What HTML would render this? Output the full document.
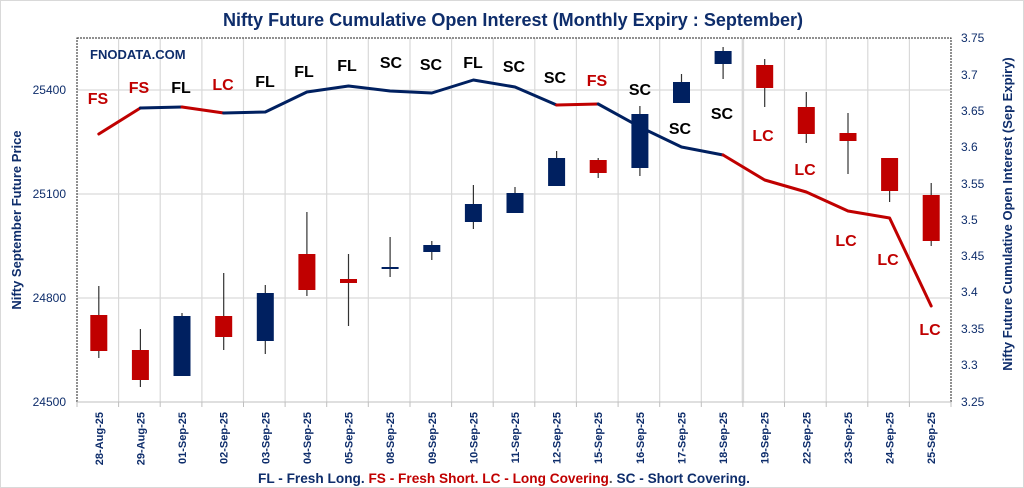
<!DOCTYPE html>
<html><head><meta charset="utf-8"><style>
html,body{margin:0;padding:0;background:#fff;}
svg{display:block;font-family:"Liberation Sans",sans-serif;}
</style></head><body>
<svg width="1024" height="488" viewBox="0 0 1024 488" xmlns="http://www.w3.org/2000/svg">
<rect x="0.5" y="0.5" width="1023" height="487" fill="#fff" stroke="#d9d9d9"/>
<text x="513" y="26" text-anchor="middle" font-size="18" font-weight="bold" fill="#0e2d6b" textLength="580" lengthAdjust="spacingAndGlyphs">Nifty Future Cumulative Open Interest (Monthly Expiry : September)</text>
<!-- grid -->
<g stroke="#d9d9d9" stroke-width="1.2">
<line x1="77" y1="90" x2="951" y2="90"/><line x1="77" y1="194" x2="951" y2="194"/><line x1="77" y1="298" x2="951" y2="298"/>
<line x1="118.6" y1="38" x2="118.6" y2="402"/><line x1="160.2" y1="38" x2="160.2" y2="402"/><line x1="201.9" y1="38" x2="201.9" y2="402"/><line x1="243.5" y1="38" x2="243.5" y2="402"/><line x1="285.1" y1="38" x2="285.1" y2="402"/><line x1="326.7" y1="38" x2="326.7" y2="402"/><line x1="368.3" y1="38" x2="368.3" y2="402"/><line x1="410" y1="38" x2="410" y2="402"/><line x1="451.6" y1="38" x2="451.6" y2="402"/><line x1="493.2" y1="38" x2="493.2" y2="402"/><line x1="534.8" y1="38" x2="534.8" y2="402"/><line x1="576.4" y1="38" x2="576.4" y2="402"/><line x1="618.1" y1="38" x2="618.1" y2="402"/><line x1="659.7" y1="38" x2="659.7" y2="402"/><line x1="701.3" y1="38" x2="701.3" y2="402"/><line x1="742.9" y1="38" x2="742.9" y2="402" stroke-width="2.5"/><line x1="784.5" y1="38" x2="784.5" y2="402"/><line x1="826.2" y1="38" x2="826.2" y2="402"/><line x1="867.8" y1="38" x2="867.8" y2="402"/><line x1="909.4" y1="38" x2="909.4" y2="402"/>
</g>
<rect x="77" y="38" width="874" height="364" fill="none" stroke="#222" stroke-width="1" stroke-dasharray="2,1"/>
<line x1="77" y1="402" x2="951" y2="402" stroke="#bfbfbf"/>
<g stroke="#bfbfbf"><line x1="77" y1="402" x2="77" y2="407"/><line x1="118.6" y1="402" x2="118.6" y2="407"/><line x1="160.2" y1="402" x2="160.2" y2="407"/><line x1="201.9" y1="402" x2="201.9" y2="407"/><line x1="243.5" y1="402" x2="243.5" y2="407"/><line x1="285.1" y1="402" x2="285.1" y2="407"/><line x1="326.7" y1="402" x2="326.7" y2="407"/><line x1="368.3" y1="402" x2="368.3" y2="407"/><line x1="410" y1="402" x2="410" y2="407"/><line x1="451.6" y1="402" x2="451.6" y2="407"/><line x1="493.2" y1="402" x2="493.2" y2="407"/><line x1="534.8" y1="402" x2="534.8" y2="407"/><line x1="576.4" y1="402" x2="576.4" y2="407"/><line x1="618.1" y1="402" x2="618.1" y2="407"/><line x1="659.7" y1="402" x2="659.7" y2="407"/><line x1="701.3" y1="402" x2="701.3" y2="407"/><line x1="742.9" y1="402" x2="742.9" y2="407"/><line x1="784.5" y1="402" x2="784.5" y2="407"/><line x1="826.2" y1="402" x2="826.2" y2="407"/><line x1="867.8" y1="402" x2="867.8" y2="407"/><line x1="909.4" y1="402" x2="909.4" y2="407"/><line x1="951" y1="402" x2="951" y2="407"/></g>
<!-- left axis -->
<g font-size="12" fill="#0e2d6b" text-anchor="end">
<text x="66" y="94">25400</text><text x="66" y="198">25100</text><text x="66" y="302">24800</text><text x="66" y="406">24500</text></g>
<text transform="translate(21,220) rotate(-90)" text-anchor="middle" font-size="13" font-weight="bold" fill="#0e2d6b">Nifty September Future Price</text>
<!-- right axis -->
<g font-size="12" fill="#0e2d6b">
<text x="961" y="42">3.75</text><text x="961" y="79">3.7</text><text x="961" y="115">3.65</text><text x="961" y="151">3.6</text><text x="961" y="188">3.55</text><text x="961" y="224">3.5</text><text x="961" y="260">3.45</text><text x="961" y="296">3.4</text><text x="961" y="333">3.35</text><text x="961" y="369">3.3</text><text x="961" y="406">3.25</text></g>
<text transform="translate(1012,214) rotate(-90)" text-anchor="middle" font-size="13" font-weight="bold" fill="#0e2d6b">Nifty Future Cumulative Open Interest (Sep Expiry)</text>
<text x="90" y="59" font-size="13" font-weight="bold" fill="#0e2d6b">FNODATA.COM</text>
<!-- candles -->
<g stroke="#333" stroke-width="1.2">
<line x1="98.8" y1="286" x2="98.8" y2="358"/><line x1="140.4" y1="329" x2="140.4" y2="387"/><line x1="182" y1="313" x2="182" y2="376"/><line x1="223.7" y1="273" x2="223.7" y2="350"/><line x1="265.3" y1="285" x2="265.3" y2="354"/><line x1="306.9" y1="212" x2="306.9" y2="296"/><line x1="348.5" y1="254" x2="348.5" y2="326"/><line x1="390.1" y1="237" x2="390.1" y2="277"/><line x1="431.8" y1="241" x2="431.8" y2="260"/><line x1="473.4" y1="185" x2="473.4" y2="229"/><line x1="515" y1="187" x2="515" y2="213"/><line x1="556.6" y1="151" x2="556.6" y2="186"/><line x1="598.2" y1="158" x2="598.2" y2="178"/><line x1="639.9" y1="106" x2="639.9" y2="176"/><line x1="681.5" y1="74" x2="681.5" y2="103"/><line x1="723.1" y1="47" x2="723.1" y2="79"/><line x1="764.7" y1="59" x2="764.7" y2="107"/><line x1="806.3" y1="92" x2="806.3" y2="143"/><line x1="848" y1="113" x2="848" y2="174"/><line x1="889.6" y1="160" x2="889.6" y2="202"/><line x1="931.2" y1="183" x2="931.2" y2="246"/>
</g>
<g>
<rect x="90.3" y="315" width="17" height="36" fill="#c00000"/>
<rect x="131.9" y="350" width="17" height="30" fill="#c00000"/>
<rect x="173.5" y="316" width="17" height="60" fill="#002060"/>
<rect x="215.2" y="316" width="17" height="21" fill="#c00000"/>
<rect x="256.8" y="293" width="17" height="48" fill="#002060"/>
<rect x="298.4" y="254" width="17" height="36" fill="#c00000"/>
<rect x="340" y="279" width="17" height="4" fill="#c00000"/>
<rect x="381.6" y="267" width="17" height="2" fill="#002060"/>
<rect x="423.3" y="245" width="17" height="7" fill="#002060"/>
<rect x="464.9" y="204" width="17" height="18" fill="#002060"/>
<rect x="506.5" y="193" width="17" height="20" fill="#002060"/>
<rect x="548.1" y="158" width="17" height="28" fill="#002060"/>
<rect x="589.7" y="160" width="17" height="13" fill="#c00000"/>
<rect x="631.4" y="114" width="17" height="54" fill="#002060"/>
<rect x="673" y="82" width="17" height="21" fill="#002060"/>
<rect x="714.6" y="51" width="17" height="13" fill="#002060"/>
<rect x="756.2" y="65" width="17" height="23" fill="#c00000"/>
<rect x="797.8" y="107" width="17" height="27" fill="#c00000"/>
<rect x="839.5" y="133" width="17" height="8" fill="#c00000"/>
<rect x="881.1" y="158" width="17" height="33" fill="#c00000"/>
<rect x="922.7" y="195" width="17" height="46" fill="#c00000"/>
</g>
<!-- OI line -->
<g fill="none" stroke-width="3" stroke-linejoin="round" stroke-linecap="round">
<polyline stroke="#c00000" points="98.8,134 140.4,108"/>
<polyline stroke="#002060" points="140.4,108 182,107"/>
<polyline stroke="#c00000" points="182,107 223.7,113"/>
<polyline stroke="#002060" points="223.7,113 265.3,112 306.9,92 348.5,86 390.1,91 431.8,93 473.4,80 515,87 556.6,105"/>
<polyline stroke="#c00000" points="556.6,105 598.2,104"/>
<polyline stroke="#002060" points="598.2,104 639.9,127 681.5,147 723.1,155"/>
<polyline stroke="#c00000" points="723.1,155 764.7,180 806.3,192 848,211 889.6,218 931.2,306"/>
</g>
<!-- labels -->
<g font-size="16" font-weight="bold" text-anchor="middle">
<text x="98" y="104" fill="#c00000">FS</text>
<text x="139" y="93" fill="#c00000">FS</text>
<text x="181" y="93" fill="#000">FL</text>
<text x="223" y="90" fill="#c00000">LC</text>
<text x="265" y="87" fill="#000">FL</text>
<text x="304" y="77" fill="#000">FL</text>
<text x="347" y="71" fill="#000">FL</text>
<text x="391" y="68" fill="#000">SC</text>
<text x="431" y="70" fill="#000">SC</text>
<text x="473" y="68" fill="#000">FL</text>
<text x="514" y="72" fill="#000">SC</text>
<text x="555" y="83" fill="#000">SC</text>
<text x="597" y="86" fill="#c00000">FS</text>
<text x="640" y="95" fill="#000">SC</text>
<text x="680" y="134" fill="#000">SC</text>
<text x="722" y="119" fill="#000">SC</text>
<text x="763" y="141" fill="#c00000">LC</text>
<text x="805" y="175" fill="#c00000">LC</text>
<text x="846" y="246" fill="#c00000">LC</text>
<text x="888" y="265" fill="#c00000">LC</text>
<text x="930" y="335" fill="#c00000">LC</text>
</g>
<!-- x labels -->
<g font-size="11" font-weight="bold" fill="#0e2d6b" text-anchor="end">
<text transform="translate(102.8,412) rotate(-90)">28-Aug-25</text>
<text transform="translate(144.4,412) rotate(-90)">29-Aug-25</text>
<text transform="translate(186,412) rotate(-90)">01-Sep-25</text>
<text transform="translate(227.7,412) rotate(-90)">02-Sep-25</text>
<text transform="translate(269.3,412) rotate(-90)">03-Sep-25</text>
<text transform="translate(310.9,412) rotate(-90)">04-Sep-25</text>
<text transform="translate(352.5,412) rotate(-90)">05-Sep-25</text>
<text transform="translate(394.1,412) rotate(-90)">08-Sep-25</text>
<text transform="translate(435.8,412) rotate(-90)">09-Sep-25</text>
<text transform="translate(477.4,412) rotate(-90)">10-Sep-25</text>
<text transform="translate(519,412) rotate(-90)">11-Sep-25</text>
<text transform="translate(560.6,412) rotate(-90)">12-Sep-25</text>
<text transform="translate(602.2,412) rotate(-90)">15-Sep-25</text>
<text transform="translate(643.9,412) rotate(-90)">16-Sep-25</text>
<text transform="translate(685.5,412) rotate(-90)">17-Sep-25</text>
<text transform="translate(727.1,412) rotate(-90)">18-Sep-25</text>
<text transform="translate(768.7,412) rotate(-90)">19-Sep-25</text>
<text transform="translate(810.3,412) rotate(-90)">22-Sep-25</text>
<text transform="translate(852,412) rotate(-90)">23-Sep-25</text>
<text transform="translate(893.6,412) rotate(-90)">24-Sep-25</text>
<text transform="translate(935.2,412) rotate(-90)">25-Sep-25</text>
</g>
<text x="258" y="483" font-size="14" font-weight="bold" textLength="492" lengthAdjust="spacingAndGlyphs"><tspan fill="#0e2d6b">FL - Fresh Long. </tspan><tspan fill="#c00000">FS - Fresh Short. LC - Long Covering</tspan><tspan fill="#595959">. </tspan><tspan fill="#0e2d6b">SC - Short Covering.</tspan></text>
</svg>
</body></html>
